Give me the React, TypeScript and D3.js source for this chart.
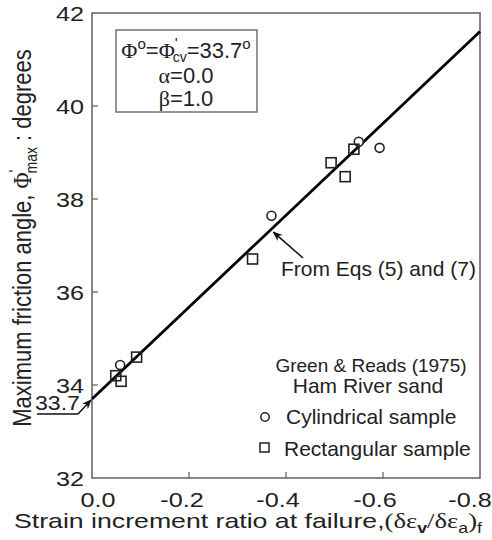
import React from "react";
import * as d3 from "d3";

const xTicks = [0, -0.2, -0.4, -0.6, -0.8];
const xTickLabels = ["0.0", "-0.2", "-0.4", "-0.6", "-0.8"];
const yTicks = [32, 34, 36, 38, 40, 42];
const yTickLabels = ["32", "34", "36", "38", "40", "42"];

const cylX = [-0.058, -0.37, -0.55, -0.593];
const cylY = [34.43, 37.64, 39.23, 39.1];
const rectX = [-0.049, -0.06, -0.092, -0.331, -0.493, -0.522, -0.54];
const rectY = [34.2, 34.08, 34.6, 36.71, 38.78, 38.48, 39.07];

const lineX = [0, -0.8];
const lineY = [33.7, 41.6];

const xLabelShift = [6, -7, -8, -8, -10];

function SText(props: { x: number; y: number; sx?: number; anchor?: string; size: number; children: any; fill?: string }) {
  const { x, y, sx = 1.2, anchor = "start", size, children, fill = "#222" } = props;
  return (
    <text transform={`translate(${x},${y}) scale(${sx},1)`} textAnchor={anchor as any} fontSize={size} fill={fill}>
      {children}
    </text>
  );
}

export default function App() {
  const W = 492, H = 540;
  const x = d3.scaleLinear().domain([0, -0.8]).range([92, 480]);
  const y = d3.scaleLinear().domain([32, 42]).range([478, 13]);
  const fit = d3.line<number>().x((_, i) => x(lineX[i])).y((_, i) => y(lineY[i]));
  const sans = "Arial, 'Liberation Sans', Helvetica, sans-serif";
  const serif = "'Times New Roman', 'Liberation Serif', serif";
  const txt = "#222";
  const ax = "#6a6a6a";
  const arrowTipX = x(0);
  const arrowTipY = y(33.7);
  const annTip = [x(-0.372) + 1, y(33.7 + (41.6 - 33.7) * 0.372 / 0.8) + 4];
  return (
    <svg width={W} height={H} style={{ position: "absolute", left: 0, top: 0, background: "#fff" }} fontFamily={sans}>
      <defs>
        <marker id="ah" viewBox="0 0 10 10" refX="9" refY="5" markerWidth="10" markerHeight="10" orient="auto" markerUnits="userSpaceOnUse">
          <path d="M0,1 L10,5 L0,9 L3,5 Z" fill="#111" />
        </marker>
      </defs>
      <rect x={x(0)} y={y(42)} width={x(-0.8) - x(0)} height={y(32) - y(42)} fill="none" stroke={ax} strokeWidth={1.6} />
      {xTicks.slice(1, 4).map((t) => (
        <line key={"xt" + t} x1={x(t)} x2={x(t)} y1={y(32)} y2={y(32) - 6} stroke={ax} strokeWidth={1.3} />
      ))}
      {yTicks.slice(1, 5).map((t) => (
        <line key={"yt" + t} x1={x(0)} x2={x(0) + 6} y1={y(t)} y2={y(t)} stroke={ax} strokeWidth={1.3} />
      ))}
      {xTicks.map((t, i) => (
        <SText key={"xl" + t} x={x(t) + xLabelShift[i]} y={507} anchor="middle" size={21}>{xTickLabels[i]}</SText>
      ))}
      {yTicks.map((t, i) => (
        <SText key={"yl" + t} x={84} y={y(t) + 7.5} anchor="end" size={21}>{yTickLabels[i]}</SText>
      ))}
      <path d={fit(lineX) || ""} stroke="#000" strokeWidth={2.8} fill="none" />
      {cylX.map((v, i) => (
        <circle key={"c" + i} cx={x(v)} cy={y(cylY[i])} r={4.5} fill="#fff" stroke="#222" strokeWidth={1.6} />
      ))}
      {rectX.map((v, i) => (
        <rect key={"r" + i} x={x(v) - 5} y={y(rectY[i]) - 5} width={10} height={10} fill="none" stroke="#222" strokeWidth={1.6} />
      ))}
      {/* parameter box */}
      <rect x={116} y={30} width={141} height={82} fill="#fff" stroke={ax} strokeWidth={1.4} />
      <text x={186} y={58} textAnchor="middle" fontSize={22} fill={txt}>
        <tspan fontFamily={serif}>Φ</tspan>
        <tspan dy={-9} fontSize={15}>o</tspan>
        <tspan dy={9}>=</tspan>
        <tspan fontFamily={serif}>Φ</tspan>
        <tspan dy={-10} fontSize={15}>'</tspan>
        <tspan dx={-5} dy={14} fontSize={14}>cv</tspan>
        <tspan dy={-4}>=33.7</tspan>
        <tspan dy={-9} fontSize={15}>o</tspan>
      </text>
      <text x={186} y={83} textAnchor="middle" fontSize={22} fill={txt}>
        <tspan fontFamily={serif}>α</tspan>=0.0
      </text>
      <text x={186} y={106} textAnchor="middle" fontSize={22} fill={txt}>
        <tspan fontFamily={serif}>β</tspan>=1.0
      </text>
      {/* annotation */}
      <line x1={303} y1={258} x2={annTip[0]} y2={annTip[1]} stroke="#111" strokeWidth={1.5} markerEnd="url(#ah)" />
      <text x={281} y={276} fontSize={21} fill={txt}>From Eqs (5) and (7)</text>
      {/* 33.7 marker */}
      <SText x={35} y={410} sx={1.1} size={21}>33.7</SText>
      <polyline points={`${37},${414} ${78},${414} ${arrowTipX - 1},${arrowTipY + 1}`} fill="none" stroke="#111" strokeWidth={1.4} markerEnd="url(#ah)" />
      {/* legend */}
      <text x={371} y={372} textAnchor="middle" fontSize={19} fill={txt}>Green &amp; Reads (1975)</text>
      <text x={368} y={393} textAnchor="middle" fontSize={21} fill={txt}>Ham River sand</text>
      <circle cx={265} cy={417} r={4.2} fill="#fff" stroke="#222" strokeWidth={1.5} />
      <text x={286} y={424} fontSize={21} fill={txt}>Cylindrical sample</text>
      <rect x={260} y={443} width={9} height={9} fill="none" stroke="#222" strokeWidth={1.5} />
      <text x={284} y={456} fontSize={21} fill={txt}>Rectangular sample</text>
      {/* axis titles */}
      <text transform="translate(31,238) scale(1.15,1) rotate(-90)" textAnchor="middle" fontSize={22} fill={txt}>
        Maximum friction angle,{" "}
        <tspan fontFamily={serif}>Φ</tspan>
        <tspan dy={-9} fontSize={15}>'</tspan>
        <tspan dx={-4} dy={14} fontSize={14}>max</tspan>
        <tspan dy={-5}> : degrees</tspan>
      </text>
      <text transform="translate(248,528) scale(1.27,1)" textAnchor="middle" fontSize={21} fill={txt}>
        Strain increment ratio at failure,
        <tspan fontFamily={serif}>(δε</tspan>
        <tspan dy={5} fontSize={14} fontWeight="bold">v</tspan>
        <tspan dy={-5} fontFamily={serif}>/δε</tspan>
        <tspan dy={5} fontSize={14}>a</tspan>
        <tspan dy={-5} fontFamily={serif}>)</tspan>
        <tspan dy={5} fontSize={14}>f</tspan>
      </text>
    </svg>
  );
}
